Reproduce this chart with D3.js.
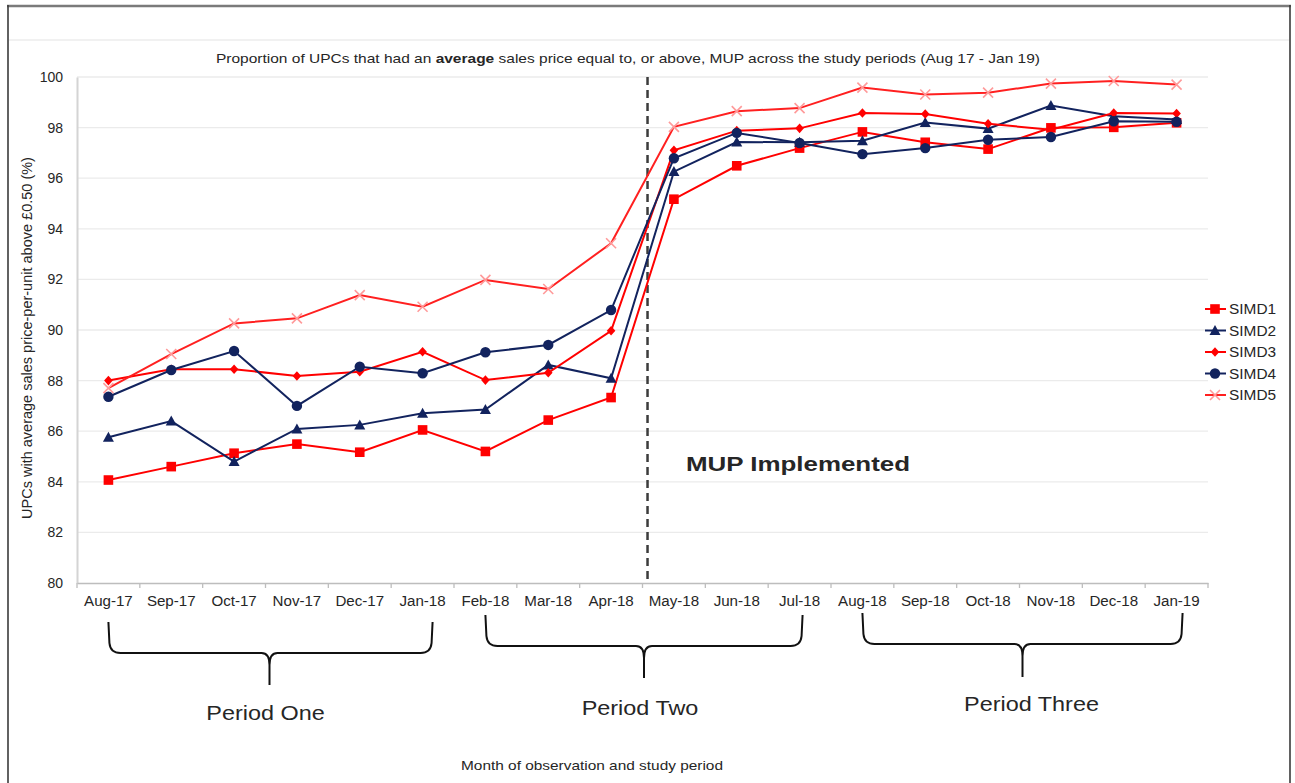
<!DOCTYPE html>
<html><head><meta charset="utf-8">
<script src="https://cdn.jsdelivr.net/npm/d3@7"></script>
<style>
html,body{margin:0;padding:0;background:#fff;}
svg{display:block;}
text{font-family:"Liberation Sans",Arial,sans-serif;fill:#262626;}
</style></head>
<body>
<svg id="chart" width="1295" height="783"></svg>
<script>
const months = ["Aug-17","Sep-17","Oct-17","Nov-17","Dec-17","Jan-18","Feb-18","Mar-18","Apr-18","May-18","Jun-18","Jul-18","Aug-18","Sep-18","Oct-18","Nov-18","Dec-18","Jan-19"];
const simd1 = [84.07,84.6,85.13,85.49,85.17,86.05,85.2,86.44,87.33,95.17,96.49,97.19,97.83,97.42,97.15,97.99,98.01,98.19];
const simd2 = [85.76,86.4,84.8,86.09,86.25,86.71,86.86,88.62,88.09,96.26,97.43,97.42,97.48,98.2,97.96,98.87,98.45,98.32];
const simd3 = [88.0,88.45,88.45,88.18,88.35,89.14,88.02,88.31,89.97,97.1,97.88,97.97,98.58,98.54,98.15,97.92,98.58,98.56];
const simd4 = [87.36,88.42,89.17,87.0,88.55,88.29,89.12,89.41,90.79,96.79,97.79,97.39,96.95,97.19,97.52,97.63,98.25,98.23];
const simd5 = [87.7,89.05,90.26,90.46,91.38,90.92,91.98,91.62,93.43,98.03,98.65,98.77,99.58,99.31,99.38,99.74,99.84,99.70];
const seriesNames = ["SIMD1","SIMD2","SIMD3","SIMD4","SIMD5"];
const yTicks = [80,82,84,86,88,90,92,94,96,98,100];
const periods = [
  {label:"Period One", from:"Aug-17", to:"Jan-18"},
  {label:"Period Two", from:"Feb-18", to:"Jul-18"},
  {label:"Period Three", from:"Aug-18", to:"Jan-19"}
];
const mupAfter = "Apr-18";

const seriesData = [simd1,simd2,simd3,simd4,simd5];
const styles = [
  {color:"#ff0000", marker:"square"},
  {color:"#12235e", marker:"triangle"},
  {color:"#ff0000", marker:"diamond"},
  {color:"#12235e", marker:"circle"},
  {color:"#ff2020", marker:"cross", mcolor:"#ff9a9a"}
];

function stretch(sel, f){
  sel.each(function(){
    const l = this.getComputedTextLength();
    d3.select(this).attr("textLength", l*f).attr("lengthAdjust","spacingAndGlyphs");
  });
}

const svg = d3.select("#chart");
const L = 77, R = 1208, T = 77, B = 583;

// frame
svg.append("line").attr("x1",7).attr("x2",1291).attr("y1",6).attr("y2",6).attr("stroke","#7a7a7a").attr("stroke-width",2.5);
svg.append("line").attr("x1",8).attr("x2",8).attr("y1",5).attr("y2",783).attr("stroke","#3a3a3a").attr("stroke-width",1.6);
svg.append("line").attr("x1",1290).attr("x2",1290).attr("y1",5).attr("y2",783).attr("stroke","#3a3a3a").attr("stroke-width",1.6);
svg.append("line").attr("x1",9).attr("x2",1289).attr("y1",40).attr("y2",40).attr("stroke","#e3e3e3").attr("stroke-width",1);

const x = d3.scaleBand().domain(months).range([L,R]).padding(0);
const y = d3.scaleLinear().domain([80,100]).range([B,T]);
const cx = m => x(m) + x.bandwidth()/2;

// gridlines
svg.append("g").selectAll("line").data(yTicks.filter(v=>v>80)).join("line")
  .attr("x1",L).attr("x2",R).attr("y1",d=>y(d)).attr("y2",d=>y(d))
  .attr("stroke","#ebebeb").attr("stroke-width",1.3);

// y axis
const ya = svg.append("g").attr("transform",`translate(${L},0)`)
  .call(d3.axisLeft(y).tickValues(yTicks).tickSize(0).tickPadding(14));
ya.select(".domain").attr("stroke","#d4d4d4").attr("stroke-width",2);
ya.selectAll("text").attr("font-size",14).attr("fill","#262626").attr("font-family","Liberation Sans, Arial, sans-serif");

// x axis
const xa = svg.append("g").attr("transform",`translate(0,${B})`)
  .call(d3.axisBottom(x).tickSize(0).tickPadding(13));
xa.select(".domain").attr("stroke","#bdbdbd").attr("stroke-width",1.5);
xa.selectAll("text").attr("font-size",14).attr("fill","#262626").attr("font-family","Liberation Sans, Arial, sans-serif")
  .attr("transform","scale(1.08,1)");
// boundary ticks
const bounds = months.map(m=>x(m)).concat([R]);
svg.append("g").selectAll("line").data(bounds).join("line")
  .attr("x1",d=>d).attr("x2",d=>d).attr("y1",B).attr("y2",B+5)
  .attr("stroke","#bdbdbd").attr("stroke-width",1.3);

// MUP dashed line
const mupX = cx(mupAfter) + x.step()*0.58;
svg.append("line").attr("x1",mupX).attr("x2",mupX).attr("y1",T).attr("y2",B)
  .attr("stroke","#3c3c3c").attr("stroke-width",2.5).attr("stroke-dasharray","8,5");

// lines
const lineGen = d3.line().x((d,i)=>cx(months[i])).y(d=>y(d));
function drawMarker(g, type, px, py, color){
  const s = 4.8;
  if(type==="square") g.append("rect").attr("x",px-s).attr("y",py-s).attr("width",2*s).attr("height",2*s).attr("fill",color);
  else if(type==="triangle") g.append("path").attr("d",`M${px},${py-5.5}L${px+5.5},${py+4.5}L${px-5.5},${py+4.5}Z`).attr("fill",color);
  else if(type==="diamond") g.append("path").attr("d",`M${px},${py-4.8}L${px+4.3},${py}L${px},${py+4.8}L${px-4.3},${py}Z`).attr("fill",color);
  else if(type==="circle") g.append("circle").attr("cx",px).attr("cy",py).attr("r",5.2).attr("fill",color);
  else if(type==="cross") g.append("path").attr("d",`M${px-5},${py-5}L${px+5},${py+5}M${px-5},${py+5}L${px+5},${py-5}`).attr("stroke",color).attr("stroke-width",1.6).attr("fill","none");
}
seriesData.forEach((vals,k)=>{
  const st = styles[k];
  const g = svg.append("g");
  g.append("path").datum(vals).attr("d",lineGen).attr("fill","none")
    .attr("stroke",st.color).attr("stroke-width",2);
  vals.forEach((v,i)=>drawMarker(g, st.marker, cx(months[i]), y(v), st.mcolor||st.color));
});

// title
const title = svg.append("text").attr("x",628).attr("y",63).attr("text-anchor","middle").attr("font-size",13.5);
title.append("tspan").text("Proportion of UPCs that had an ");
title.append("tspan").attr("font-weight","bold").text("average");
title.append("tspan").text(" sales price equal to, or above, MUP across the study periods (Aug 17 - Jan 19)");
title.attr("textLength",824).attr("lengthAdjust","spacingAndGlyphs");

// y title
svg.append("text").attr("transform","translate(32,338) rotate(-90)").attr("text-anchor","middle")
  .attr("font-size",14.5).text("UPCs with average sales price-per-unit above £0.50 (%)");

// x title
const xt = svg.append("text").attr("x",592).attr("y",770).attr("text-anchor","middle").attr("font-size",13)
  .text("Month of observation and study period");
xt.attr("textLength",262).attr("lengthAdjust","spacingAndGlyphs");

// MUP label
svg.append("text").attr("x",798).attr("y",471).attr("text-anchor","middle")
  .attr("font-family","Open Sans, sans-serif").attr("font-weight","bold").attr("font-size",21)
  .attr("fill","#111").attr("textLength",224).attr("lengthAdjust","spacingAndGlyphs").text("MUP Implemented");

// legend
const lg = svg.append("g");
seriesNames.forEach((n,k)=>{
  const ly = 309 + k*21.5;
  const st = styles[k];
  lg.append("line").attr("x1",1205).attr("x2",1226).attr("y1",ly).attr("y2",ly).attr("stroke",st.color).attr("stroke-width",2);
  drawMarker(lg, st.marker, 1215, ly, st.mcolor||st.color);
  const t = lg.append("text").attr("x",1229).attr("y",ly+5).attr("font-size",14).text(n);
  stretch(t, 1.1);
});

// braces
const braceGeo = [
  {top:622, hy:653, bottom:685, ly:720, lx:-4},
  {top:615, hy:646, bottom:678, ly:715, lx:-4},
  {top:613, hy:644, bottom:677, ly:711, lx:9}
];
periods.forEach((p,k)=>{
  const x1 = cx(p.from), x2 = cx(p.to) + (k===0?10:(k===1?3:6));
  const g = braceGeo[k];
  const mid = (x1+x2)/2 + (k===0? -1 : 0);
  const d = `M${x1},${g.top} L${x1+1},${g.hy-10} Q${x1+2},${g.hy} ${x1+12},${g.hy} L${mid-8},${g.hy} Q${mid},${g.hy} ${mid},${g.hy+12} L${mid},${g.bottom}` +
            ` M${mid},${g.hy+12} Q${mid},${g.hy} ${mid+8},${g.hy} L${x2-12},${g.hy} Q${x2-2},${g.hy} ${x2-1},${g.hy-10} L${x2},${g.top}`;
  svg.append("path").attr("d",d).attr("fill","none").attr("stroke","#111").attr("stroke-width",2);
  const t = svg.append("text").attr("x",mid+g.lx).attr("y",g.ly).attr("text-anchor","middle")
    .attr("font-family","Open Sans, sans-serif").attr("font-size",19.5).attr("fill","#111").text(p.label);
  stretch(t, 1.2);
});
</script>
</body></html>
